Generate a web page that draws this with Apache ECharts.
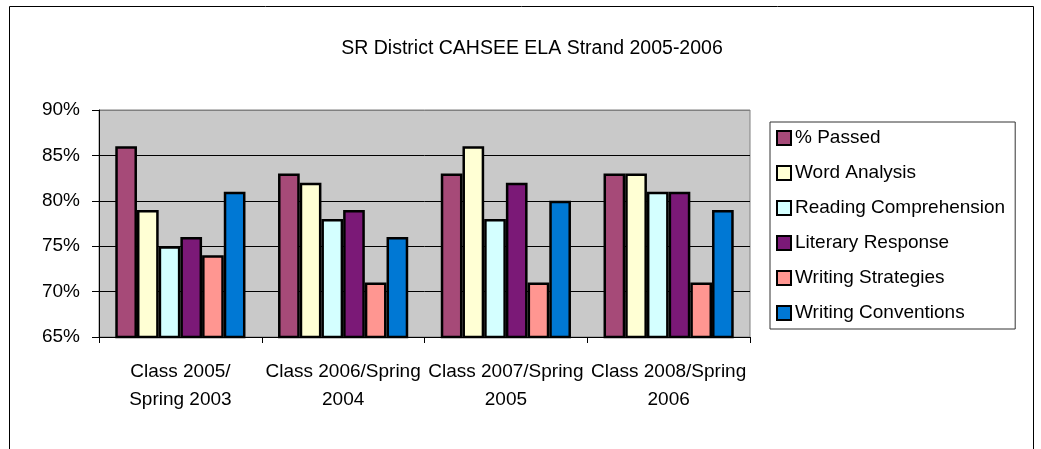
<!DOCTYPE html>
<html>
<head>
<meta charset="utf-8">
<script src="https://cdn.jsdelivr.net/npm/echarts@6/dist/echarts.min.js"></script>
<style>
html,body{margin:0;padding:0;background:#fff;}
#chart{width:1041px;height:449px;}
</style>
</head>
<body>
<div id="chart"></div>
<script>
const title = 'SR District CAHSEE ELA Strand 2005-2006';
const categories = ['Class 2005/\nSpring 2003', 'Class 2006/Spring\n2004', 'Class 2007/Spring\n2005', 'Class 2008/Spring\n2006'];
const seriesNames = ['% Passed', 'Word Analysis', 'Reading Comprehension', 'Literary Response', 'Writing Strategies', 'Writing Conventions'];
const passed = [86, 83, 83, 83];
const wordAnalysis = [79, 82, 86, 83];
const readingComprehension = [75, 78, 78, 81];
const literaryResponse = [76, 79, 82, 81];
const writingStrategies = [74, 71, 71, 71];
const writingConventions = [81, 76, 80, 79];
const colors = ['#A64A78', '#FFFFD4', '#D4FFFF', '#7B1977', '#FF9691', '#0078D4'];

const values = [passed, wordAnalysis, readingComprehension, literaryResponse, writingStrategies, writingConventions];
const font = '"Liberation Sans", Arial, sans-serif';

const chart = echarts.init(document.getElementById('chart'), null, {renderer: 'canvas'});
chart.setOption({
  animation: false,
  backgroundColor: '#ffffff',
  color: colors,
  title: {
    text: title,
    left: 527,
    textAlign: 'center',
    top: 34,
    textStyle: {fontFamily: font, fontSize: 19.5, fontWeight: 'normal', color: '#000'}
  },
  legend: {
    orient: 'vertical',
    left: 770,
    top: 122,
    padding: [6, 10, 6, 6],
    itemWidth: 14,
    itemHeight: 14,
    itemGap: 15,
    backgroundColor: '#ffffff',
    borderColor: '#333',
    borderWidth: 1,
    borderRadius: 0,
    icon: 'rect',
    itemStyle: {borderColor: '#000', borderWidth: 2},
    textStyle: {fontFamily: font, fontSize: 19, lineHeight: 20, color: '#000', padding: [0, 0, 0, -1]},
    data: seriesNames
  },
  grid: {
    left: 99,
    right: 291,
    top: 110,
    bottom: 112,
    show: true,
    backgroundColor: '#C9C9C9',
    borderColor: '#808080',
    borderWidth: 1
  },
  xAxis: {
    type: 'category',
    data: categories,
    axisLine: {lineStyle: {color: '#000', width: 1}},
    axisTick: {show: true, length: 6, lineStyle: {color: '#000'}},
    axisLabel: {fontFamily: font, fontSize: 19, lineHeight: 28, color: '#000', margin: 21, interval: 0}
  },
  yAxis: {
    type: 'value',
    min: 65,
    max: 90,
    interval: 5,
    axisLine: {show: true, lineStyle: {color: '#000', width: 1}},
    axisTick: {show: true, length: 7, lineStyle: {color: '#000'}},
    axisLabel: {fontFamily: font, fontSize: 19, color: '#000', margin: 19, formatter: '{value}%'},
    splitLine: {show: true, lineStyle: {color: ['#000', '#000', '#000', '#000', '#000', '#808080'], width: 1}}
  },
  series: seriesNames.map((name, i) => ({
    name: name,
    type: 'bar',
    data: values[i],
    barGap: '0%',
    barCategoryGap: '20%',
    itemStyle: {color: colors[i], borderColor: '#000', borderWidth: 2.5}
  })),
  graphic: [{
    type: 'polyline',
    silent: true,
    shape: {points: [[9.5, 449], [9.5, 6.5], [1033.5, 6.5], [1033.5, 449]]},
    style: {stroke: '#000', lineWidth: 1, fill: null}
  }]
});
</script>
</body>
</html>
